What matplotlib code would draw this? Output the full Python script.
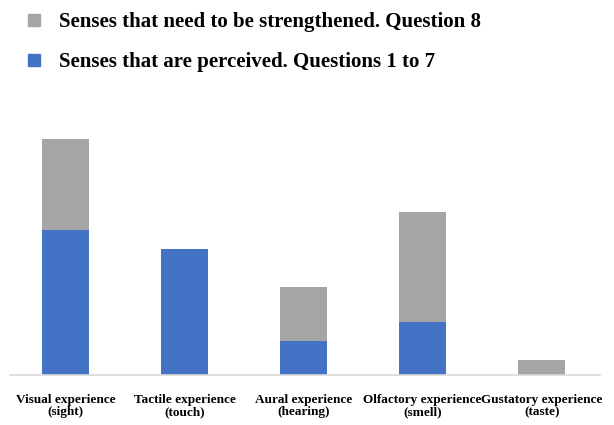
# Stacked bars: perceived senses vs senses to strengthen

import matplotlib.pyplot as plt
import numpy as np
from matplotlib.patches import Rectangle

# Data
categories = ["Visual experience\n(sight)", "Tactile experience\n(touch)",
              "Aural experience\n(hearing)", "Olfactory experience\n(smell)",
              "Gustatory experience\n(taste)"]
perceived = [29, 25.2, 6.8, 10.6, 0]       # Questions 1 to 7
strengthen = [18.2, 0, 10.8, 22, 3]        # Question 8

blue = "#4472C4"
gray = "#A5A5A5"

plt.rcParams['font.family'] = ['Liberation Serif', 'DejaVu Serif']
plt.rcParams['font.weight'] = 'bold'

fig = plt.figure(figsize=(6.14, 4.25), dpi=100)
ax = fig.add_axes([10 / 614, 50 / 425, 590 / 614, 255 / 425])

x = np.arange(len(categories))
ax.bar(x, perceived, width=0.395, color=blue)
ax.bar(x, strengthen, width=0.395, bottom=perceived, color=gray)

ax.set_xlim(-0.466, 4.49)
ax.set_ylim(0, 51)
ax.set_xticks(x)
ax.set_xticklabels(categories, fontsize=9.5, fontweight='bold', linespacing=0.95)
ax.tick_params(axis='x', length=0, pad=14)
ax.set_yticks([])
for s in ['top', 'right', 'left']:
    ax.spines[s].set_visible(False)
ax.spines['bottom'].set_color('#D9D9D9')
ax.spines['bottom'].set_linewidth(1.2)

# Legend
handles = [Rectangle((0, 0), 1, 1, color=gray), Rectangle((0, 0), 1, 1, color=blue)]
labels = ["Senses that need to be strengthened. Question 8",
          "Senses that are perceived. Questions 1 to 7"]
fig.legend(handles, labels, loc='upper left', bbox_to_anchor=(0.022, 1.005),
           frameon=False, prop={'size': 15, 'weight': 'bold'},
           handlelength=0.55, handleheight=0.55, handletextpad=0.95,
           labelspacing=0.95, borderaxespad=0.3)

plt.savefig("out.png", dpi=100)
